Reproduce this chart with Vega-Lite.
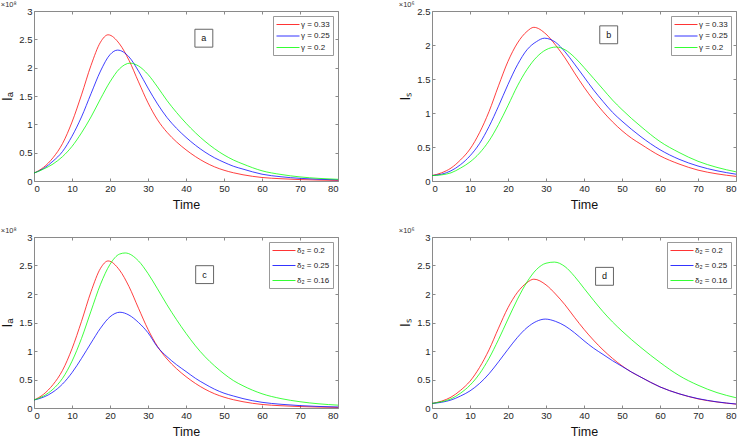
{
  "$schema": "https://vega.github.io/schema/vega-lite/v6.json",
  "padding": {"left": 0, "top": 0, "right": 0, "bottom": 0},
  "background": "white",
  "config": {
    "font": "Liberation Sans",
    "view": {"stroke": "#8a8a8a", "strokeWidth": 1},
    "axis": {"domain": false, "grid": false, "tickSize": -3, "tickColor": "#8a8a8a", "tickWidth": 1, "labelFontSize": 9.5, "labelColor": "#262626", "labelFont": "Liberation Sans", "labelPadding": 5, "titleFont": "Liberation Sans", "titleFontWeight": "normal", "titleColor": "#111"},
    "axisX": {"titleFontSize": 12.5, "titlePadding": 6},
    "axisY": {"titleFontSize": 14, "titlePadding": 4},
    "title": {"anchor": "start", "fontSize": 7.5, "fontWeight": "normal", "offset": -2, "color": "#333", "font": "Liberation Sans"},
    "legend": {"orient": "top-right", "offset": 5, "strokeColor": "#999", "fillColor": "white", "padding": 3, "symbolType": "M-1,0H3.6", "symbolSize": 100, "symbolStrokeWidth": 0.8, "symbolFillColor": "transparent", "labelFontSize": 8, "labelFont": "Liberation Sans", "labelColor": "#222", "rowPadding": 1.5, "labelOffset": 14}
  },
  "columns": 2,
  "spacing": {"row": 14, "column": 58},
  "resolve": {"scale": {"color": "independent"}},
  "datasets": {
    "a": [
      {"s":"γ = 0.33","t":0,"v":0.14},{"s":"γ = 0.33","t":2.5,"v":0.24},{"s":"γ = 0.33","t":5,"v":0.41},{"s":"γ = 0.33","t":7.5,"v":0.66},{"s":"γ = 0.33","t":10,"v":1.04},{"s":"γ = 0.33","t":12.5,"v":1.52},{"s":"γ = 0.33","t":15,"v":2.04},{"s":"γ = 0.33","t":17.5,"v":2.45},{"s":"γ = 0.33","t":19.5,"v":2.58},{"s":"γ = 0.33","t":22.5,"v":2.42},{"s":"γ = 0.33","t":25,"v":2.13},{"s":"γ = 0.33","t":27.5,"v":1.75},{"s":"γ = 0.33","t":30,"v":1.38},{"s":"γ = 0.33","t":32.5,"v":1.08},{"s":"γ = 0.33","t":35,"v":0.86},{"s":"γ = 0.33","t":37.5,"v":0.69},{"s":"γ = 0.33","t":40,"v":0.55},{"s":"γ = 0.33","t":42.5,"v":0.43},{"s":"γ = 0.33","t":45,"v":0.33},{"s":"γ = 0.33","t":47.5,"v":0.25},{"s":"γ = 0.33","t":50,"v":0.19},{"s":"γ = 0.33","t":52.5,"v":0.145},{"s":"γ = 0.33","t":55,"v":0.11},{"s":"γ = 0.33","t":60,"v":0.062},{"s":"γ = 0.33","t":65,"v":0.04},{"s":"γ = 0.33","t":70,"v":0.025},{"s":"γ = 0.33","t":75,"v":0.016},{"s":"γ = 0.33","t":80,"v":0.01},
      {"s":"γ = 0.25","t":0,"v":0.14},{"s":"γ = 0.25","t":2.5,"v":0.22},{"s":"γ = 0.25","t":5,"v":0.35},{"s":"γ = 0.25","t":7.5,"v":0.52},{"s":"γ = 0.25","t":10,"v":0.79},{"s":"γ = 0.25","t":12.5,"v":1.13},{"s":"γ = 0.25","t":15,"v":1.54},{"s":"γ = 0.25","t":17.5,"v":1.94},{"s":"γ = 0.25","t":20,"v":2.23},{"s":"γ = 0.25","t":22,"v":2.31},{"s":"γ = 0.25","t":25,"v":2.19},{"s":"γ = 0.25","t":27.5,"v":1.94},{"s":"γ = 0.25","t":30,"v":1.64},{"s":"γ = 0.25","t":32.5,"v":1.36},{"s":"γ = 0.25","t":35,"v":1.12},{"s":"γ = 0.25","t":37.5,"v":0.93},{"s":"γ = 0.25","t":40,"v":0.77},{"s":"γ = 0.25","t":42.5,"v":0.63},{"s":"γ = 0.25","t":45,"v":0.51},{"s":"γ = 0.25","t":47.5,"v":0.41},{"s":"γ = 0.25","t":50,"v":0.33},{"s":"γ = 0.25","t":52.5,"v":0.26},{"s":"γ = 0.25","t":55,"v":0.21},{"s":"γ = 0.25","t":60,"v":0.12},{"s":"γ = 0.25","t":65,"v":0.075},{"s":"γ = 0.25","t":70,"v":0.047},{"s":"γ = 0.25","t":75,"v":0.03},{"s":"γ = 0.25","t":80,"v":0.02},
      {"s":"γ = 0.2","t":0,"v":0.14},{"s":"γ = 0.2","t":2.5,"v":0.21},{"s":"γ = 0.2","t":5,"v":0.3},{"s":"γ = 0.2","t":7.5,"v":0.43},{"s":"γ = 0.2","t":10,"v":0.61},{"s":"γ = 0.2","t":12.5,"v":0.85},{"s":"γ = 0.2","t":15,"v":1.13},{"s":"γ = 0.2","t":17.5,"v":1.45},{"s":"γ = 0.2","t":20,"v":1.75},{"s":"γ = 0.2","t":22.5,"v":1.98},{"s":"γ = 0.2","t":25.3,"v":2.08},{"s":"γ = 0.2","t":27.5,"v":2.03},{"s":"γ = 0.2","t":30,"v":1.88},{"s":"γ = 0.2","t":32.5,"v":1.66},{"s":"γ = 0.2","t":35,"v":1.42},{"s":"γ = 0.2","t":37.5,"v":1.21},{"s":"γ = 0.2","t":40,"v":1.02},{"s":"γ = 0.2","t":42.5,"v":0.85},{"s":"γ = 0.2","t":45,"v":0.7},{"s":"γ = 0.2","t":47.5,"v":0.57},{"s":"γ = 0.2","t":50,"v":0.46},{"s":"γ = 0.2","t":52.5,"v":0.37},{"s":"γ = 0.2","t":55,"v":0.3},{"s":"γ = 0.2","t":60,"v":0.18},{"s":"γ = 0.2","t":65,"v":0.115},{"s":"γ = 0.2","t":70,"v":0.072},{"s":"γ = 0.2","t":75,"v":0.046},{"s":"γ = 0.2","t":80,"v":0.03}
    ],
    "b": [
      {"s":"γ = 0.33","t":0,"v":0.08},{"s":"γ = 0.33","t":2.5,"v":0.12},{"s":"γ = 0.33","t":5,"v":0.19},{"s":"γ = 0.33","t":7.5,"v":0.31},{"s":"γ = 0.33","t":10,"v":0.47},{"s":"γ = 0.33","t":12.5,"v":0.71},{"s":"γ = 0.33","t":15,"v":1.02},{"s":"γ = 0.33","t":17.5,"v":1.4},{"s":"γ = 0.33","t":20,"v":1.76},{"s":"γ = 0.33","t":22.5,"v":2.03},{"s":"γ = 0.33","t":25,"v":2.2},{"s":"γ = 0.33","t":26.8,"v":2.26},{"s":"γ = 0.33","t":30,"v":2.16},{"s":"γ = 0.33","t":32.5,"v":2.0},{"s":"γ = 0.33","t":35,"v":1.81},{"s":"γ = 0.33","t":37.5,"v":1.59},{"s":"γ = 0.33","t":40,"v":1.38},{"s":"γ = 0.33","t":42.5,"v":1.19},{"s":"γ = 0.33","t":45,"v":1.02},{"s":"γ = 0.33","t":47.5,"v":0.87},{"s":"γ = 0.33","t":50,"v":0.74},{"s":"γ = 0.33","t":52.5,"v":0.63},{"s":"γ = 0.33","t":55,"v":0.54},{"s":"γ = 0.33","t":60,"v":0.37},{"s":"γ = 0.33","t":65,"v":0.25},{"s":"γ = 0.33","t":70,"v":0.16},{"s":"γ = 0.33","t":75,"v":0.105},{"s":"γ = 0.33","t":80,"v":0.068},
      {"s":"γ = 0.25","t":0,"v":0.08},{"s":"γ = 0.25","t":2.5,"v":0.1},{"s":"γ = 0.25","t":5,"v":0.15},{"s":"γ = 0.25","t":7.5,"v":0.24},{"s":"γ = 0.25","t":10,"v":0.37},{"s":"γ = 0.25","t":12.5,"v":0.55},{"s":"γ = 0.25","t":15,"v":0.8},{"s":"γ = 0.25","t":17.5,"v":1.1},{"s":"γ = 0.25","t":20,"v":1.42},{"s":"γ = 0.25","t":22.5,"v":1.71},{"s":"γ = 0.25","t":25,"v":1.93},{"s":"γ = 0.25","t":27.5,"v":2.05},{"s":"γ = 0.25","t":29.6,"v":2.1},{"s":"γ = 0.25","t":32.5,"v":2.04},{"s":"γ = 0.25","t":35,"v":1.9},{"s":"γ = 0.25","t":37.5,"v":1.72},{"s":"γ = 0.25","t":40,"v":1.53},{"s":"γ = 0.25","t":42.5,"v":1.34},{"s":"γ = 0.25","t":45,"v":1.17},{"s":"γ = 0.25","t":47.5,"v":1.01},{"s":"γ = 0.25","t":50,"v":0.88},{"s":"γ = 0.25","t":52.5,"v":0.76},{"s":"γ = 0.25","t":55,"v":0.65},{"s":"γ = 0.25","t":60,"v":0.46},{"s":"γ = 0.25","t":65,"v":0.32},{"s":"γ = 0.25","t":70,"v":0.22},{"s":"γ = 0.25","t":75,"v":0.15},{"s":"γ = 0.25","t":80,"v":0.1},
      {"s":"γ = 0.2","t":0,"v":0.08},{"s":"γ = 0.2","t":2.5,"v":0.09},{"s":"γ = 0.2","t":5,"v":0.12},{"s":"γ = 0.2","t":7.5,"v":0.19},{"s":"γ = 0.2","t":10,"v":0.28},{"s":"γ = 0.2","t":12.5,"v":0.41},{"s":"γ = 0.2","t":15,"v":0.59},{"s":"γ = 0.2","t":17.5,"v":0.83},{"s":"γ = 0.2","t":20,"v":1.11},{"s":"γ = 0.2","t":22.5,"v":1.4},{"s":"γ = 0.2","t":25,"v":1.64},{"s":"γ = 0.2","t":27.5,"v":1.82},{"s":"γ = 0.2","t":30,"v":1.93},{"s":"γ = 0.2","t":32.7,"v":1.97},{"s":"γ = 0.2","t":35,"v":1.93},{"s":"γ = 0.2","t":37.5,"v":1.82},{"s":"γ = 0.2","t":40,"v":1.67},{"s":"γ = 0.2","t":42.5,"v":1.51},{"s":"γ = 0.2","t":45,"v":1.35},{"s":"γ = 0.2","t":47.5,"v":1.19},{"s":"γ = 0.2","t":50,"v":1.05},{"s":"γ = 0.2","t":52.5,"v":0.92},{"s":"γ = 0.2","t":55,"v":0.8},{"s":"γ = 0.2","t":60,"v":0.58},{"s":"γ = 0.2","t":65,"v":0.42},{"s":"γ = 0.2","t":70,"v":0.29},{"s":"γ = 0.2","t":75,"v":0.2},{"s":"γ = 0.2","t":80,"v":0.135}
    ],
    "c": [
      {"s":"δ₂ = 0.2","t":0,"v":0.14},{"s":"δ₂ = 0.2","t":2.5,"v":0.24},{"s":"δ₂ = 0.2","t":5,"v":0.41},{"s":"δ₂ = 0.2","t":7.5,"v":0.66},{"s":"δ₂ = 0.2","t":10,"v":1.04},{"s":"δ₂ = 0.2","t":12.5,"v":1.52},{"s":"δ₂ = 0.2","t":15,"v":2.04},{"s":"δ₂ = 0.2","t":17.5,"v":2.45},{"s":"δ₂ = 0.2","t":19.5,"v":2.58},{"s":"δ₂ = 0.2","t":22.5,"v":2.42},{"s":"δ₂ = 0.2","t":25,"v":2.13},{"s":"δ₂ = 0.2","t":27.5,"v":1.75},{"s":"δ₂ = 0.2","t":30,"v":1.38},{"s":"δ₂ = 0.2","t":32.5,"v":1.08},{"s":"δ₂ = 0.2","t":35,"v":0.86},{"s":"δ₂ = 0.2","t":37.5,"v":0.69},{"s":"δ₂ = 0.2","t":40,"v":0.55},{"s":"δ₂ = 0.2","t":42.5,"v":0.43},{"s":"δ₂ = 0.2","t":45,"v":0.33},{"s":"δ₂ = 0.2","t":47.5,"v":0.25},{"s":"δ₂ = 0.2","t":50,"v":0.19},{"s":"δ₂ = 0.2","t":52.5,"v":0.145},{"s":"δ₂ = 0.2","t":55,"v":0.11},{"s":"δ₂ = 0.2","t":60,"v":0.062},{"s":"δ₂ = 0.2","t":65,"v":0.04},{"s":"δ₂ = 0.2","t":70,"v":0.025},{"s":"δ₂ = 0.2","t":75,"v":0.016},{"s":"δ₂ = 0.2","t":80,"v":0.01},
      {"s":"δ₂ = 0.25","t":0,"v":0.14},{"s":"δ₂ = 0.25","t":2.5,"v":0.19},{"s":"δ₂ = 0.25","t":5,"v":0.28},{"s":"δ₂ = 0.25","t":7.5,"v":0.42},{"s":"δ₂ = 0.25","t":10,"v":0.62},{"s":"δ₂ = 0.25","t":12.5,"v":0.87},{"s":"δ₂ = 0.25","t":15,"v":1.14},{"s":"δ₂ = 0.25","t":17.5,"v":1.4},{"s":"δ₂ = 0.25","t":20,"v":1.6},{"s":"δ₂ = 0.25","t":22.6,"v":1.68},{"s":"δ₂ = 0.25","t":25,"v":1.63},{"s":"δ₂ = 0.25","t":27.5,"v":1.5},{"s":"δ₂ = 0.25","t":30,"v":1.32},{"s":"δ₂ = 0.25","t":32.5,"v":1.07},{"s":"δ₂ = 0.25","t":35,"v":0.9},{"s":"δ₂ = 0.25","t":37.5,"v":0.76},{"s":"δ₂ = 0.25","t":40,"v":0.64},{"s":"δ₂ = 0.25","t":42.5,"v":0.52},{"s":"δ₂ = 0.25","t":45,"v":0.42},{"s":"δ₂ = 0.25","t":47.5,"v":0.33},{"s":"δ₂ = 0.25","t":50,"v":0.26},{"s":"δ₂ = 0.25","t":52.5,"v":0.21},{"s":"δ₂ = 0.25","t":55,"v":0.165},{"s":"δ₂ = 0.25","t":60,"v":0.1},{"s":"δ₂ = 0.25","t":65,"v":0.065},{"s":"δ₂ = 0.25","t":70,"v":0.042},{"s":"δ₂ = 0.25","t":75,"v":0.027},{"s":"δ₂ = 0.25","t":80,"v":0.018},
      {"s":"δ₂ = 0.16","t":0,"v":0.14},{"s":"δ₂ = 0.16","t":2.5,"v":0.21},{"s":"δ₂ = 0.16","t":5,"v":0.33},{"s":"δ₂ = 0.16","t":7.5,"v":0.52},{"s":"δ₂ = 0.16","t":10,"v":0.82},{"s":"δ₂ = 0.16","t":12.5,"v":1.22},{"s":"δ₂ = 0.16","t":15,"v":1.7},{"s":"δ₂ = 0.16","t":17.5,"v":2.17},{"s":"δ₂ = 0.16","t":20,"v":2.52},{"s":"δ₂ = 0.16","t":22.5,"v":2.7},{"s":"δ₂ = 0.16","t":24,"v":2.72},{"s":"δ₂ = 0.16","t":27.5,"v":2.58},{"s":"δ₂ = 0.16","t":30,"v":2.36},{"s":"δ₂ = 0.16","t":32.5,"v":2.09},{"s":"δ₂ = 0.16","t":35,"v":1.81},{"s":"δ₂ = 0.16","t":37.5,"v":1.55},{"s":"δ₂ = 0.16","t":40,"v":1.31},{"s":"δ₂ = 0.16","t":42.5,"v":1.09},{"s":"δ₂ = 0.16","t":45,"v":0.9},{"s":"δ₂ = 0.16","t":47.5,"v":0.74},{"s":"δ₂ = 0.16","t":50,"v":0.6},{"s":"δ₂ = 0.16","t":52.5,"v":0.48},{"s":"δ₂ = 0.16","t":55,"v":0.39},{"s":"δ₂ = 0.16","t":60,"v":0.25},{"s":"δ₂ = 0.16","t":65,"v":0.165},{"s":"δ₂ = 0.16","t":70,"v":0.11},{"s":"δ₂ = 0.16","t":75,"v":0.073},{"s":"δ₂ = 0.16","t":80,"v":0.05}
    ],
    "d": [
      {"s":"δ₂ = 0.2","t":0,"v":0.08},{"s":"δ₂ = 0.2","t":2.5,"v":0.12},{"s":"δ₂ = 0.2","t":5,"v":0.19},{"s":"δ₂ = 0.2","t":7.5,"v":0.31},{"s":"δ₂ = 0.2","t":10,"v":0.47},{"s":"δ₂ = 0.2","t":12.5,"v":0.71},{"s":"δ₂ = 0.2","t":15,"v":1.02},{"s":"δ₂ = 0.2","t":17.5,"v":1.4},{"s":"δ₂ = 0.2","t":20,"v":1.76},{"s":"δ₂ = 0.2","t":22.5,"v":2.03},{"s":"δ₂ = 0.2","t":25,"v":2.2},{"s":"δ₂ = 0.2","t":26.8,"v":2.26},{"s":"δ₂ = 0.2","t":30,"v":2.16},{"s":"δ₂ = 0.2","t":32.5,"v":2.0},{"s":"δ₂ = 0.2","t":35,"v":1.81},{"s":"δ₂ = 0.2","t":37.5,"v":1.59},{"s":"δ₂ = 0.2","t":40,"v":1.38},{"s":"δ₂ = 0.2","t":42.5,"v":1.19},{"s":"δ₂ = 0.2","t":45,"v":1.02},{"s":"δ₂ = 0.2","t":47.5,"v":0.87},{"s":"δ₂ = 0.2","t":50,"v":0.74},{"s":"δ₂ = 0.2","t":52.5,"v":0.63},{"s":"δ₂ = 0.2","t":55,"v":0.54},{"s":"δ₂ = 0.2","t":60,"v":0.37},{"s":"δ₂ = 0.2","t":65,"v":0.25},{"s":"δ₂ = 0.2","t":70,"v":0.16},{"s":"δ₂ = 0.2","t":75,"v":0.105},{"s":"δ₂ = 0.2","t":80,"v":0.068},
      {"s":"δ₂ = 0.25","t":0,"v":0.08},{"s":"δ₂ = 0.25","t":2.5,"v":0.1},{"s":"δ₂ = 0.25","t":5,"v":0.14},{"s":"δ₂ = 0.25","t":7.5,"v":0.21},{"s":"δ₂ = 0.25","t":10,"v":0.3},{"s":"δ₂ = 0.25","t":12.5,"v":0.43},{"s":"δ₂ = 0.25","t":15,"v":0.6},{"s":"δ₂ = 0.25","t":17.5,"v":0.81},{"s":"δ₂ = 0.25","t":20,"v":1.03},{"s":"δ₂ = 0.25","t":22.5,"v":1.24},{"s":"δ₂ = 0.25","t":25,"v":1.41},{"s":"δ₂ = 0.25","t":27.5,"v":1.52},{"s":"δ₂ = 0.25","t":29.8,"v":1.56},{"s":"δ₂ = 0.25","t":32.5,"v":1.52},{"s":"δ₂ = 0.25","t":35,"v":1.44},{"s":"δ₂ = 0.25","t":37.5,"v":1.32},{"s":"δ₂ = 0.25","t":40,"v":1.18},{"s":"δ₂ = 0.25","t":42.5,"v":1.05},{"s":"δ₂ = 0.25","t":45,"v":0.94},{"s":"δ₂ = 0.25","t":47.5,"v":0.83},{"s":"δ₂ = 0.25","t":50,"v":0.73},{"s":"δ₂ = 0.25","t":52.5,"v":0.63},{"s":"δ₂ = 0.25","t":55,"v":0.54},{"s":"δ₂ = 0.25","t":60,"v":0.37},{"s":"δ₂ = 0.25","t":65,"v":0.25},{"s":"δ₂ = 0.25","t":70,"v":0.165},{"s":"δ₂ = 0.25","t":75,"v":0.108},{"s":"δ₂ = 0.25","t":80,"v":0.07},
      {"s":"δ₂ = 0.16","t":0,"v":0.08},{"s":"δ₂ = 0.16","t":2.5,"v":0.11},{"s":"δ₂ = 0.16","t":5,"v":0.16},{"s":"δ₂ = 0.16","t":7.5,"v":0.26},{"s":"δ₂ = 0.16","t":10,"v":0.4},{"s":"δ₂ = 0.16","t":12.5,"v":0.6},{"s":"δ₂ = 0.16","t":15,"v":0.87},{"s":"δ₂ = 0.16","t":17.5,"v":1.2},{"s":"δ₂ = 0.16","t":20,"v":1.56},{"s":"δ₂ = 0.16","t":22.5,"v":1.91},{"s":"δ₂ = 0.16","t":25,"v":2.21},{"s":"δ₂ = 0.16","t":27.5,"v":2.43},{"s":"δ₂ = 0.16","t":30,"v":2.54},{"s":"δ₂ = 0.16","t":32.2,"v":2.56},{"s":"δ₂ = 0.16","t":35,"v":2.48},{"s":"δ₂ = 0.16","t":37.5,"v":2.31},{"s":"δ₂ = 0.16","t":40,"v":2.1},{"s":"δ₂ = 0.16","t":42.5,"v":1.89},{"s":"δ₂ = 0.16","t":45,"v":1.69},{"s":"δ₂ = 0.16","t":47.5,"v":1.51},{"s":"δ₂ = 0.16","t":50,"v":1.35},{"s":"δ₂ = 0.16","t":52.5,"v":1.2},{"s":"δ₂ = 0.16","t":55,"v":1.06},{"s":"δ₂ = 0.16","t":60,"v":0.8},{"s":"δ₂ = 0.16","t":65,"v":0.57},{"s":"δ₂ = 0.16","t":70,"v":0.4},{"s":"δ₂ = 0.16","t":75,"v":0.27},{"s":"δ₂ = 0.16","t":80,"v":0.18}
    ]
  },
  "concat": [
    {
      "width": 304, "height": 170,
      "title": "×10⁸",
      "layer": [
        {"data": {"name": "a"},
         "mark": {"type": "line", "strokeWidth": 0.75, "interpolate": "monotone"},
         "encoding": {
           "x": {"field": "t", "type": "quantitative", "scale": {"domain": [0, 80], "nice": false}, "axis": {"values": [0,10,20,30,40,50,60,70,80], "title": "Time"}},
           "y": {"field": "v", "type": "quantitative", "scale": {"domain": [0, 3], "nice": false}, "axis": {"values": [0,0.5,1,1.5,2,2.5,3], "format": "~g", "title": "Iₐ"}},
           "color": {"field": "s", "type": "nominal", "scale": {"domain": ["γ = 0.33","γ = 0.25","γ = 0.2"], "range": ["#ff0000","#0000ff","#00ff00"]}, "legend": {"title": null, "encode": {"symbols": {"update": {"stroke": {"scale": "concat_0_color", "field": "value"}}}}}}
         }},
        {"data": {"values": [{"t": 44.7, "v": 2.52, "label": "a"}]},
         "mark": {"type": "point", "shape": "square", "size": 320, "filled": false, "stroke": "#666", "strokeWidth": 1, "opacity": 1},
         "encoding": {
           "x": {"field": "t", "type": "quantitative", "axis": {"orient": "top", "labels": false, "title": null, "maxExtent": 0, "minExtent": 0, "labelPadding": 0, "values": [0,10,20,30,40,50,60,70,80]}},
           "y": {"field": "v", "type": "quantitative", "axis": {"orient": "right", "labels": false, "title": null, "values": [0,0.5,1,1.5,2,2.5,3]}}
         }},
        {"data": {"values": [{"t": 44.7, "v": 2.52, "label": "a"}]},
         "mark": {"type": "text", "fontSize": 9, "color": "#111"},
         "encoding": {
           "x": {"field": "t", "type": "quantitative", "axis": null},
           "y": {"field": "v", "type": "quantitative", "axis": null},
           "text": {"field": "label"}
         }}
      ],
      "resolve": {"axis": {"x": "independent", "y": "independent"}}
    },
    {
      "width": 304, "height": 170,
      "title": "×10⁶",
      "layer": [
        {"data": {"name": "b"},
         "mark": {"type": "line", "strokeWidth": 0.75, "interpolate": "monotone"},
         "encoding": {
           "x": {"field": "t", "type": "quantitative", "scale": {"domain": [0, 80], "nice": false}, "axis": {"values": [0,10,20,30,40,50,60,70,80], "title": "Time"}},
           "y": {"field": "v", "type": "quantitative", "scale": {"domain": [0, 2.5], "nice": false}, "axis": {"values": [0,0.5,1,1.5,2,2.5], "format": "~g", "title": "Iₛ"}},
           "color": {"field": "s", "type": "nominal", "scale": {"domain": ["γ = 0.33","γ = 0.25","γ = 0.2"], "range": ["#ff0000","#0000ff","#00ff00"]}, "legend": {"title": null, "encode": {"symbols": {"update": {"stroke": {"scale": "concat_1_color", "field": "value"}}}}}}
         }},
        {"data": {"values": [{"t": 46.5, "v": 2.15, "label": "b"}]},
         "mark": {"type": "point", "shape": "square", "size": 320, "filled": false, "stroke": "#666", "strokeWidth": 1, "opacity": 1},
         "encoding": {
           "x": {"field": "t", "type": "quantitative", "axis": {"orient": "top", "labels": false, "title": null, "maxExtent": 0, "minExtent": 0, "labelPadding": 0, "values": [0,10,20,30,40,50,60,70,80]}},
           "y": {"field": "v", "type": "quantitative", "axis": {"orient": "right", "labels": false, "title": null, "values": [0,0.5,1,1.5,2,2.5]}}
         }},
        {"data": {"values": [{"t": 46.5, "v": 2.15, "label": "b"}]},
         "mark": {"type": "text", "fontSize": 9, "color": "#111"},
         "encoding": {
           "x": {"field": "t", "type": "quantitative", "axis": null},
           "y": {"field": "v", "type": "quantitative", "axis": null},
           "text": {"field": "label"}
         }}
      ],
      "resolve": {"axis": {"x": "independent", "y": "independent"}}
    },
    {
      "width": 304, "height": 171,
      "title": "×10⁸",
      "layer": [
        {"data": {"name": "c"},
         "mark": {"type": "line", "strokeWidth": 0.75, "interpolate": "monotone"},
         "encoding": {
           "x": {"field": "t", "type": "quantitative", "scale": {"domain": [0, 80], "nice": false}, "axis": {"values": [0,10,20,30,40,50,60,70,80], "title": "Time"}},
           "y": {"field": "v", "type": "quantitative", "scale": {"domain": [0, 3], "nice": false}, "axis": {"values": [0,0.5,1,1.5,2,2.5,3], "format": "~g", "title": "Iₐ"}},
           "color": {"field": "s", "type": "nominal", "scale": {"domain": ["δ₂ = 0.2","δ₂ = 0.25","δ₂ = 0.16"], "range": ["#ff0000","#0000ff","#00ff00"]}, "legend": {"title": null, "rowPadding": 5, "encode": {"symbols": {"update": {"stroke": {"scale": "concat_2_color", "field": "value"}}}}}}
         }},
        {"data": {"values": [{"t": 44.9, "v": 2.34, "label": "c"}]},
         "mark": {"type": "point", "shape": "square", "size": 320, "filled": false, "stroke": "#666", "strokeWidth": 1, "opacity": 1},
         "encoding": {
           "x": {"field": "t", "type": "quantitative", "axis": {"orient": "top", "labels": false, "title": null, "maxExtent": 0, "minExtent": 0, "labelPadding": 0, "values": [0,10,20,30,40,50,60,70,80]}},
           "y": {"field": "v", "type": "quantitative", "axis": {"orient": "right", "labels": false, "title": null, "values": [0,0.5,1,1.5,2,2.5,3]}}
         }},
        {"data": {"values": [{"t": 44.9, "v": 2.34, "label": "c"}]},
         "mark": {"type": "text", "fontSize": 9, "color": "#111"},
         "encoding": {
           "x": {"field": "t", "type": "quantitative", "axis": null},
           "y": {"field": "v", "type": "quantitative", "axis": null},
           "text": {"field": "label"}
         }}
      ],
      "resolve": {"axis": {"x": "independent", "y": "independent"}}
    },
    {
      "width": 304, "height": 171,
      "title": "×10⁶",
      "layer": [
        {"data": {"name": "d"},
         "mark": {"type": "line", "strokeWidth": 0.75, "interpolate": "monotone"},
         "encoding": {
           "x": {"field": "t", "type": "quantitative", "scale": {"domain": [0, 80], "nice": false}, "axis": {"values": [0,10,20,30,40,50,60,70,80], "title": "Time"}},
           "y": {"field": "v", "type": "quantitative", "scale": {"domain": [0, 3], "nice": false}, "axis": {"values": [0,0.5,1,1.5,2,2.5,3], "format": "~g", "title": "Iₛ"}},
           "color": {"field": "s", "type": "nominal", "scale": {"domain": ["δ₂ = 0.2","δ₂ = 0.25","δ₂ = 0.16"], "range": ["#ff0000","#0000ff","#00ff00"]}, "legend": {"title": null, "rowPadding": 5, "encode": {"symbols": {"update": {"stroke": {"scale": "concat_3_color", "field": "value"}}}}}}
         }},
        {"data": {"values": [{"t": 45.4, "v": 2.31, "label": "d"}]},
         "mark": {"type": "point", "shape": "square", "size": 320, "filled": false, "stroke": "#666", "strokeWidth": 1, "opacity": 1},
         "encoding": {
           "x": {"field": "t", "type": "quantitative", "axis": {"orient": "top", "labels": false, "title": null, "maxExtent": 0, "minExtent": 0, "labelPadding": 0, "values": [0,10,20,30,40,50,60,70,80]}},
           "y": {"field": "v", "type": "quantitative", "axis": {"orient": "right", "labels": false, "title": null, "values": [0,0.5,1,1.5,2,2.5,3]}}
         }},
        {"data": {"values": [{"t": 45.4, "v": 2.31, "label": "d"}]},
         "mark": {"type": "text", "fontSize": 9, "color": "#111"},
         "encoding": {
           "x": {"field": "t", "type": "quantitative", "axis": null},
           "y": {"field": "v", "type": "quantitative", "axis": null},
           "text": {"field": "label"}
         }}
      ],
      "resolve": {"axis": {"x": "independent", "y": "independent"}}
    }
  ]
}
